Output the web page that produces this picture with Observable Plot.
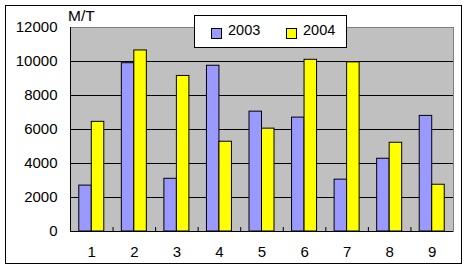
<!DOCTYPE html>
<html>
<head>
<meta charset="utf-8">
<script src="https://cdn.jsdelivr.net/npm/d3@7"></script>
<script src="https://cdn.jsdelivr.net/npm/@observablehq/plot@0.6"></script>
<style>
  html, body { margin: 0; padding: 0; background: #fff; }
  #wrap { position: relative; width: 469px; height: 272px; font-family: "Liberation Sans", Arial, sans-serif; }
  #border { position: absolute; left: 5px; top: 5px; width: 455px; height: 257px; border: 1.5px solid #000; pointer-events: none; }
  #unit { position: absolute; left: 68px; top: 7px; font-size: 15.5px; color: #000; }
  #legend { position: absolute; left: 194px; top: 15px; width: 151px; height: 31px; border: 1px solid #000; background: #fff; font-size: 14.5px; }
  .sw { position: absolute; top: 12px; width: 9px; height: 9px; border: 1px solid #000; }
  .lt { position: absolute; top: 6px; }
</style>
</head>
<body>
<div id="wrap"></div>
<script>
const categories = ["1","2","3","4","5","6","7","8","9"];
const series = ["2003","2004"];
const values2003 = [2700, 9900, 3100, 9750, 7050, 6700, 3050, 4280, 6800];
const values2004 = [6450, 10650, 9150, 5280, 6050, 10100, 9950, 5220, 2750];
const yTicks = [0, 2000, 4000, 6000, 8000, 10000, 12000];
const colors = ["#9999ff", "#ffff00"];

const d2003 = categories.map((c, i) => ({cat: c, v: values2003[i]}));
const d2004 = categories.map((c, i) => ({cat: c, v: values2004[i]}));

const W = 469, H = 272, mL = 70, mR = 16, mT = 27, mB = 41;
const half = (W - mL - mR) / categories.length / 2;
const bw = 12.5;

const chart = Plot.plot({
  width: W, height: H,
  marginLeft: mL, marginRight: mR, marginTop: mT, marginBottom: mB,
  style: {fontFamily: "Liberation Sans, Arial, sans-serif", fontSize: "15px", color: "#000", background: "transparent"},
  x: {domain: categories, padding: 0, round: false, label: null},
  y: {domain: [0, 12000], label: null},
  marks: [
    Plot.frame({fill: "#c0c0c0", stroke: "#808080"}),
    Plot.ruleY(yTicks.filter(t => t > 0 && t < 12000), {stroke: "#000"}),
    Plot.barY(d2003, {x: "cat", y: "v", fill: colors[0], stroke: "#000", insetLeft: half - bw, insetRight: half}),
    Plot.barY(d2004, {x: "cat", y: "v", fill: colors[1], stroke: "#000", insetLeft: half, insetRight: half - bw}),
    Plot.ruleX(categories.slice(0, -1), {dx: half, insetTop: H - mT - mB - 4, stroke: "#000"}),
    Plot.ruleY([0], {stroke: "#000"}),
    Plot.frame({anchor: "left", stroke: "#000"}),
    Plot.axisY({ticks: yTicks, tickSize: 0, tickPadding: 13, tickFormat: d => String(d), fontSize: "15px"}),
    Plot.axisX({tickSize: 0, tickPadding: 15, fontSize: "15px"})
  ]
});

const wrap = document.getElementById("wrap");
wrap.appendChild(chart);
const b = document.createElement("div"); b.id = "border"; wrap.appendChild(b);
const u = document.createElement("div"); u.id = "unit"; u.textContent = "M/T"; wrap.appendChild(u);
const lg = document.createElement("div"); lg.id = "legend";
const pos = [[16, 33], [91, 108]];
series.forEach((s, i) => {
  const sw = document.createElement("div"); sw.className = "sw";
  sw.style.left = pos[i][0] + "px"; sw.style.background = colors[i];
  const t = document.createElement("div"); t.className = "lt";
  t.style.left = pos[i][1] + "px"; t.textContent = s;
  lg.appendChild(sw); lg.appendChild(t);
});
wrap.appendChild(lg);
</script>
</body>
</html>
